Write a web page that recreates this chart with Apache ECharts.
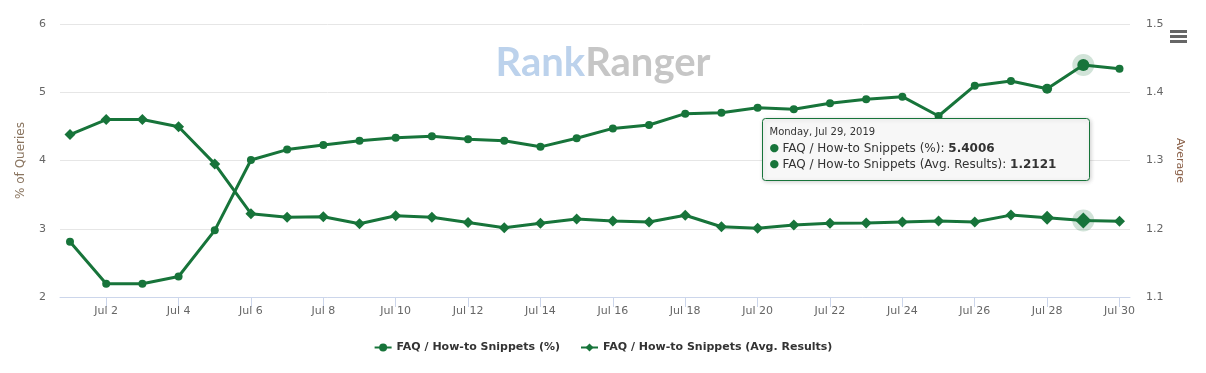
<!DOCTYPE html>
<html>
<head>
<meta charset="utf-8">
<script src="https://cdn.jsdelivr.net/npm/echarts@6/dist/echarts.min.js"></script>
<style>
html,body{margin:0;padding:0;background:#fff;}
#chart{width:1206px;height:373px;}
</style>
</head>
<body>
<div id="chart"></div>
<script>
var days = [1,2,3,4,5,6,7,8,9,10,11,12,13,14,15,16,17,18,19,20,21,22,23,24,25,26,27,28,29,30];
var dayLabels = [2,4,6,8,10,12,14,16,18,20,22,24,26,28,30];
var pctValues = [2.81,2.195,2.195,2.30,2.977,4.007,4.16,4.227,4.29,4.334,4.355,4.31,4.29,4.20,4.325,4.47,4.52,4.686,4.70,4.774,4.75,4.838,4.897,4.935,4.652,5.096,5.165,5.05,5.4006,5.345];
var avgValues = [1.338,1.360,1.360,1.3495,1.295,1.222,1.2168,1.2177,1.2074,1.219,1.2168,1.209,1.2016,1.208,1.2143,1.2114,1.21,1.2197,1.203,1.2006,1.2055,1.208,1.2084,1.21,1.2114,1.21,1.220,1.2162,1.2121,1.211];
var leftTicks = [2,3,4,5,6];
var rightTicks = [1.1,1.2,1.3,1.4,1.5];
var seriesNames = ['FAQ / How-to Snippets (%)', 'FAQ / How-to Snippets (Avg. Results)'];
var hoverIndex = 28;
var hoverDateText = 'Monday, Jul 29, 2019';

var GREEN = '#17743a';
var FONT = 'DejaVu Sans';

function pairs(vals){ return vals.map(function(v,i){ return [days[i], v]; }); }

var chart = echarts.init(document.getElementById('chart'), null, {renderer:'canvas'});

function sizeFn(base, big, mid){
  return function(val, params){
    if (params.dataIndex === hoverIndex) return big;
    if (params.dataIndex === hoverIndex - 1) return mid;
    return base;
  };
}

var option = {
  animation: false,
  backgroundColor: '#ffffff',
  textStyle: {fontFamily: FONT},
  grid: {left: 60, right: 76, top: 24, bottom: 76, containLabel: false},
  xAxis: {
    type: 'value',
    min: 0.7237,
    max: 30.29,
    axisLine: {show: true, lineStyle: {color: '#ccd6eb', width: 1}},
    axisTick: {show: true, customValues: dayLabels, length: 10, lineStyle: {color: '#ccd6eb'}},
    axisLabel: {
      customValues: dayLabels,
      formatter: function(v){ return 'Jul ' + Math.round(v); },
      color: '#666666', fontSize: 11, fontFamily: FONT, margin: 9
    },
    splitLine: {show: false}
  },
  yAxis: [
    {
      type: 'value', min: 2, max: 6, interval: 1,
      name: '% of Queries', nameLocation: 'middle', nameRotate: 90, nameGap: 33,
      nameTextStyle: {color: '#8a7560', fontSize: 12, fontFamily: FONT},
      axisLine: {show: false}, axisTick: {show: false},
      axisLabel: {color: '#666666', fontSize: 11, fontFamily: FONT, margin: 14,
        formatter: function(v){ return String(v); }},
      splitLine: {show: true, lineStyle: {color: '#e6e6e6', width: 1}}
    },
    {
      type: 'value', min: 1.1, max: 1.5, interval: 0.1, position: 'right',
      name: 'Average', nameLocation: 'middle', nameRotate: -90, nameGap: 42,
      nameTextStyle: {color: '#8a6048', fontSize: 11, fontFamily: FONT},
      axisLine: {show: false}, axisTick: {show: false},
      axisLabel: {color: '#666666', fontSize: 11, fontFamily: FONT, margin: 16,
        formatter: function(v){ return v.toFixed(1); }},
      splitLine: {show: false}
    }
  ],
  legend: {
    show: true,
    data: seriesNames,
    left: 'center',
    top: 337,
    itemWidth: 17,
    itemHeight: 10,
    itemGap: 20,
    textStyle: {color: '#333333', fontSize: 11, fontWeight: 'bold', fontFamily: FONT}
  },
  series: [
    {
      name: seriesNames[0] + ' halo', type: 'scatter', yAxisIndex: 0, silent: true, z: 1,
      data: [[days[hoverIndex], pctValues[hoverIndex]]],
      symbol: 'circle', symbolSize: 22,
      itemStyle: {color: 'rgba(23,116,58,0.25)'}
    },
    {
      name: seriesNames[1] + ' halo', type: 'scatter', yAxisIndex: 1, silent: true, z: 1,
      data: [[days[hoverIndex], avgValues[hoverIndex]]],
      symbol: 'circle', symbolSize: 22,
      itemStyle: {color: 'rgba(23,116,58,0.25)'}
    },
    {
      name: seriesNames[0], type: 'line', yAxisIndex: 0, z: 3,
      data: pairs(pctValues),
      symbol: 'circle', symbolSize: sizeFn(8, 12, 10), showAllSymbol: true,
      lineStyle: {color: GREEN, width: 3},
      itemStyle: {color: GREEN, borderWidth: 0},
      emphasis: {disabled: true}
    },
    {
      name: seriesNames[1], type: 'line', yAxisIndex: 1, z: 3,
      data: pairs(avgValues),
      symbol: 'diamond', symbolSize: sizeFn(11, 16, 14), showAllSymbol: true,
      lineStyle: {color: GREEN, width: 3},
      itemStyle: {color: GREEN, borderWidth: 0},
      emphasis: {disabled: true}
    }
  ],
  graphic: [
    {
      type: 'text', left: 'center', top: 43, z: 0, silent: true,
      style: {
        text: '{a|Rank}{b|Ranger}',
        rich: {
          a: {fontSize: 40, fontWeight: 'bold', fontFamily: 'Lato', fill: '#bcd2ec'},
          b: {fontSize: 40, fontWeight: 'bold', fontFamily: 'Lato', fill: '#c6c6c6'}
        }
      }
    },
    {type: 'rect', left: 1170, top: 30, z: 10, shape: {width: 17, height: 3}, style: {fill: '#666666'}},
    {type: 'rect', left: 1170, top: 35, z: 10, shape: {width: 17, height: 3}, style: {fill: '#666666'}},
    {type: 'rect', left: 1170, top: 40, z: 10, shape: {width: 17, height: 3}, style: {fill: '#666666'}},
    {
      type: 'group', left: 762, top: 118, z: 100,
      children: [
        {
          type: 'rect', z: 100, shape: {x: 0, y: 0, width: 327, height: 62, r: 3},
          style: {fill: '#f7f7f7', stroke: GREEN, lineWidth: 1,
            shadowBlur: 4, shadowOffsetX: 1, shadowOffsetY: 1, shadowColor: 'rgba(0,0,0,0.18)'}
        },
        {
          type: 'text', z: 101, x: 7, y: 6,
          style: {
            text: '{d|' + hoverDateText + '}\n' +
                  '{g|●} {n|' + seriesNames[0] + ': }{v|' + pctValues[hoverIndex].toFixed(4) + '}\n' +
                  '{g|●} {n|' + seriesNames[1] + ': }{v|' + avgValues[hoverIndex].toFixed(4) + '}',
            rich: {
              d: {fontSize: 10, fontFamily: FONT, fill: '#333333', lineHeight: 16},
              g: {fontSize: 11, fontFamily: FONT, fill: GREEN, lineHeight: 16},
              n: {fontSize: 12, fontFamily: FONT, fill: '#333333', lineHeight: 16},
              v: {fontSize: 12, fontFamily: FONT, fontWeight: 'bold', fill: '#333333', lineHeight: 16}
            }
          }
        }
      ]
    }
  ]
};
chart.setOption(option);
</script>
</body>
</html>
